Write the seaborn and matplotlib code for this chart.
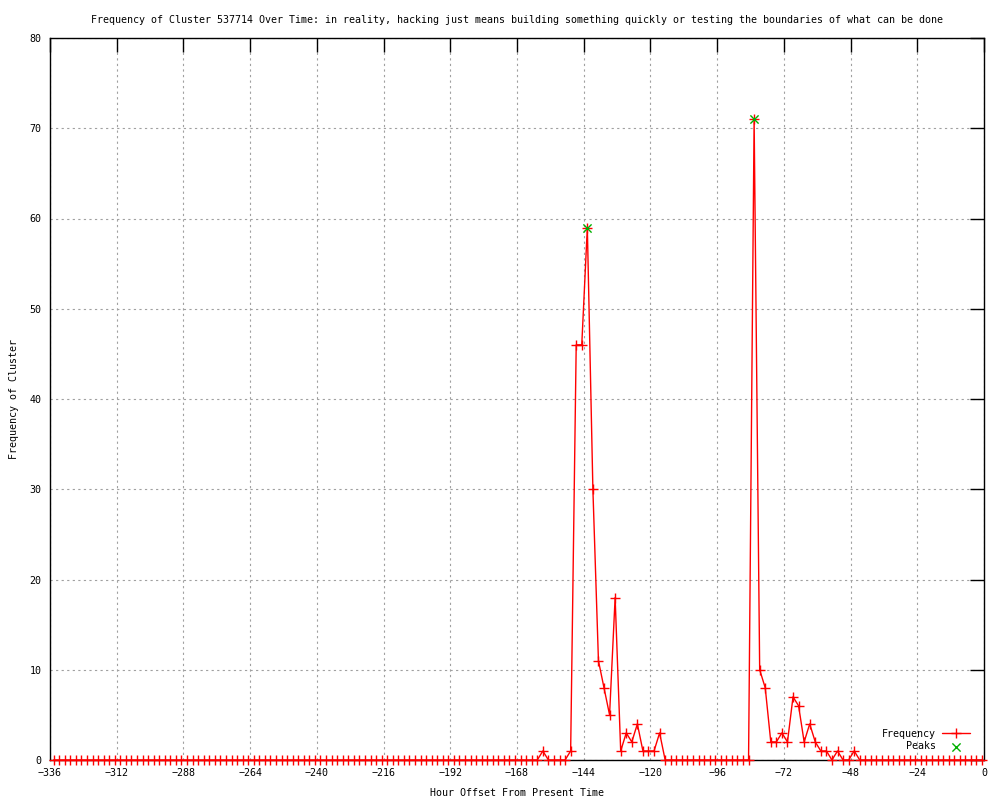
import matplotlib
matplotlib.use("Agg")
import matplotlib.pyplot as plt
import numpy as np
import seaborn as sns

# Data (2 hour bins, newest bin at -0.7 h)
hours = np.arange(-334.7, 0, 2.0)
freq = ([0] * 88 + [1, 0, 0, 0, 0, 1, 46, 46, 59, 30, 11, 8, 5, 18, 1, 3, 2, 4, 1, 1, 1, 3]
        + [0] * 16
        + [71, 10, 8, 2, 2, 3, 2, 7, 6, 2, 4, 2, 1, 1, 0, 1, 0, 0, 1]
        + [0] * 23)
peak_hours = [-142.7, -82.7]
peak_vals = [59, 71]

x_ticks = list(range(-336, 1, 24))
y_ticks = list(range(0, 81, 10))

TITLE = ("Frequency of Cluster 537714 Over Time: in reality, hacking just means "
         "building something quickly or testing the boundaries of what can be done")

FS = 7.2

sns.set_style("white")
plt.rcParams["font.family"] = ["DejaVu Sans Mono"]
plt.rcParams["font.size"] = FS
plt.rcParams["text.color"] = "black"
plt.rcParams["axes.labelcolor"] = "black"

fig = plt.figure(figsize=(10, 8), dpi=100)
ax = fig.add_axes([0.05, 0.05, 0.934, 0.9025])

sns.lineplot(x=hours, y=freq, color="red", linewidth=1, marker="+",
             markersize=7, markeredgewidth=1, markeredgecolor="red",
             label="Frequency", ax=ax, clip_on=False, zorder=3)
sns.scatterplot(x=peak_hours, y=peak_vals, marker="x", color="#00b000",
                s=35, linewidth=1, label="Peaks", ax=ax, zorder=4, clip_on=False)

ax.set_xlim(-336, 0)
ax.set_ylim(0, 80)
ax.set_xticks(x_ticks)
ax.set_yticks(y_ticks)
ax.grid(True, color="#a0a0a0", linestyle=(0, (2, 3)), linewidth=0.8)
ax.tick_params(direction="in", length=10, width=1, top=True, right=True,
               labelsize=FS, pad=6, colors="black")
for s in ax.spines.values():
    s.set_color("black")
    s.set_linewidth(1)

ax.set_title(TITLE, fontsize=FS, pad=11, color="black")
ax.set_xlabel("Hour Offset From Present Time", fontsize=FS, labelpad=7)
ax.set_ylabel("Frequency of Cluster", fontsize=FS, labelpad=8)

ax.legend(loc="lower right", bbox_to_anchor=(0.985, 0.012), frameon=False,
          markerfirst=False, numpoints=1, handlelength=2.8, handletextpad=0.6,
          borderaxespad=0, borderpad=0, labelspacing=0.25, fontsize=FS)

fig.savefig("out.png", dpi=100)
